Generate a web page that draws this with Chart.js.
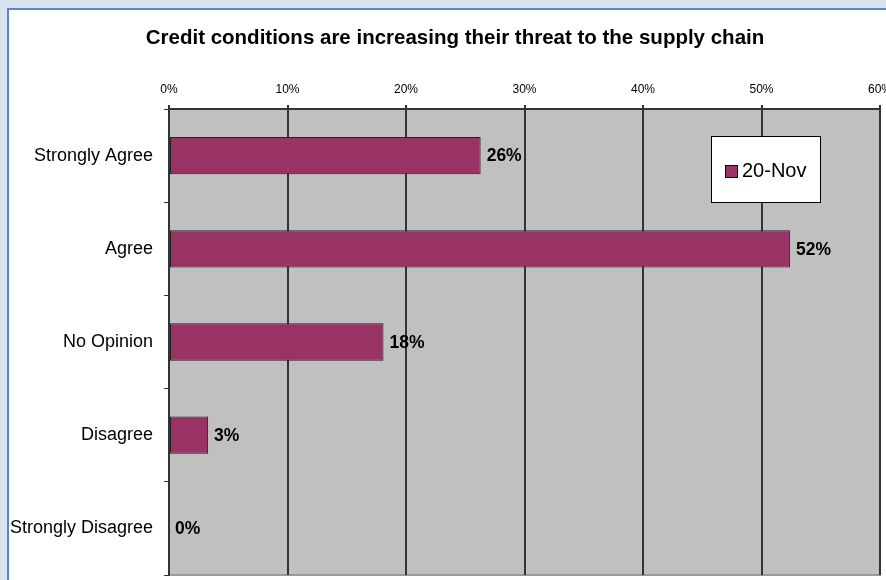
<!DOCTYPE html>
<html>
<head>
<meta charset="utf-8">
<script src="https://cdn.jsdelivr.net/npm/chart.js@4"></script>
<style>
    html, body { margin: 0; padding: 0; }
    body { width: 886px; height: 580px; background: #dae2ee; position: relative; overflow: hidden; }
    #panel { position: absolute; left: 7px; top: 8px; width: 900px; height: 600px; background: #ffffff; border: 2px solid #5a86c0; }
    #wrap { position: absolute; left: 0; top: 0; width: 886px; height: 580px; }
</style>
</head>
<body>
<div id="panel"></div>
<div id="wrap"><canvas id="creditChart"></canvas></div>
<script>
// data
const categories = ['Strongly Agree', 'Agree', 'No Opinion', 'Disagree', 'Strongly Disagree'];
const values = [26.3, 52.4, 18.1, 3.3, 0];
const seriesName = '20-Nov';
const chartTitle = 'Credit conditions are increasing their threat to the supply chain';
const xMin = 0;
const xMax = 60;
const xStep = 10;

const barColor = '#993366';
const font = "'Liberation Sans', Arial, sans-serif";

// title, centred a bit right of the canvas like the original sheet
const sheetTitle = {
    id: 'sheetTitle',
    afterDraw(chart) {
        const { ctx } = chart;
        ctx.save();
        ctx.font = 'bold 20.5px ' + font;
        ctx.fillStyle = '#000';
        ctx.textAlign = 'center';
        ctx.textBaseline = 'middle';
        ctx.fillText(chartTitle, 455, 38);
        ctx.restore();
    }
};

// gray plot background + light border right/bottom
const plotBackground = {
    id: 'plotBackground',
    beforeDraw(chart) {
        const { ctx, chartArea: a } = chart;
        ctx.save();
        ctx.fillStyle = '#c0c0c0';
        ctx.fillRect(a.left, a.top, a.right - a.left, a.bottom - a.top);
        ctx.strokeStyle = '#999999';
        ctx.lineWidth = 2;
        ctx.beginPath();
        ctx.moveTo(a.right, a.top);
        ctx.lineTo(a.right, a.bottom);
        ctx.lineTo(a.left, a.bottom);
        ctx.stroke();
        ctx.restore();
    }
};

// value labels at the end of each bar
const barLabels = {
    id: 'barLabels',
    afterDatasetsDraw(chart) {
        const { ctx } = chart;
        const meta = chart.getDatasetMeta(0);
        ctx.save();
        ctx.font = 'bold 17.5px ' + font;
        ctx.fillStyle = '#000';
        ctx.textBaseline = 'middle';
        ctx.textAlign = 'left';
        meta.data.forEach((bar, i) => {
            ctx.fillText(Math.round(values[i]) + '%', bar.x + 6, bar.y + 1);
        });
        ctx.restore();
    }
};

// boxed legend inside the plot
const boxLegend = {
    id: 'boxLegend',
    afterDraw(chart) {
        const { ctx, chartArea: a } = chart;
        const ds = chart.data.datasets[0];
        const x = a.left + 542, y = a.top + 27, w = 109, h = 66;
        ctx.save();
        ctx.fillStyle = '#fff';
        ctx.fillRect(x, y, w, h);
        ctx.strokeStyle = '#000';
        ctx.lineWidth = 1;
        ctx.strokeRect(x + 0.5, y + 0.5, w, h);
        ctx.fillStyle = ds.backgroundColor;
        ctx.fillRect(x + 14, y + 29, 12, 12);
        ctx.strokeRect(x + 14.5, y + 29.5, 12, 12);
        ctx.fillStyle = '#000';
        ctx.font = '20px ' + font;
        ctx.textBaseline = 'middle';
        ctx.fillText(ds.label, x + 31, y + 35);
        ctx.restore();
    }
};

const ctx = document.getElementById('creditChart').getContext('2d');

new Chart(ctx, {
    type: 'bar',
    data: {
        labels: categories,
        datasets: [{
            label: seriesName,
            data: values,
            backgroundColor: barColor,
            borderColor: '#222',
            borderWidth: 1,
            borderSkipped: false,
            barPercentage: 0.4,
            categoryPercentage: 1
        }]
    },
    options: {
        indexAxis: 'y',
        responsive: true,
        maintainAspectRatio: false,
        animation: false,
        layout: {
            padding: { left: 4, right: 6, top: 58, bottom: 5 }
        },
        plugins: {
            legend: { display: false },
            tooltip: { enabled: false },
            title: { display: false }
        },
        scales: {
            x: {
                position: 'top',
                min: xMin,
                max: xMax,
                ticks: {
                    stepSize: xStep,
                    color: '#000',
                    font: { family: font, size: 12 },
                    padding: 8,
                    callback: v => v + '%'
                },
                grid: {
                    color: '#333',
                    lineWidth: 2,
                    tickLength: 4
                },
                border: { color: '#333', width: 2 },
                afterFit(scale) {
                    scale.paddingLeft = 0;
                    scale.paddingRight = 0;
                    scale.height = 51;
                }
            },
            y: {
                ticks: {
                    color: '#000',
                    font: { family: font, size: 18 },
                    padding: 11
                },
                grid: {
                    drawOnChartArea: false,
                    color: '#333',
                    lineWidth: 1,
                    tickLength: 5,
                    offset: true
                },
                border: { color: '#333', width: 2 },
                afterFit(scale) {
                    scale.paddingTop = 0;
                    scale.paddingBottom = 0;
                    scale.width = 165;
                }
            }
        }
    },
    plugins: [plotBackground, barLabels, boxLegend, sheetTitle]
});
</script>
</body>
</html>
